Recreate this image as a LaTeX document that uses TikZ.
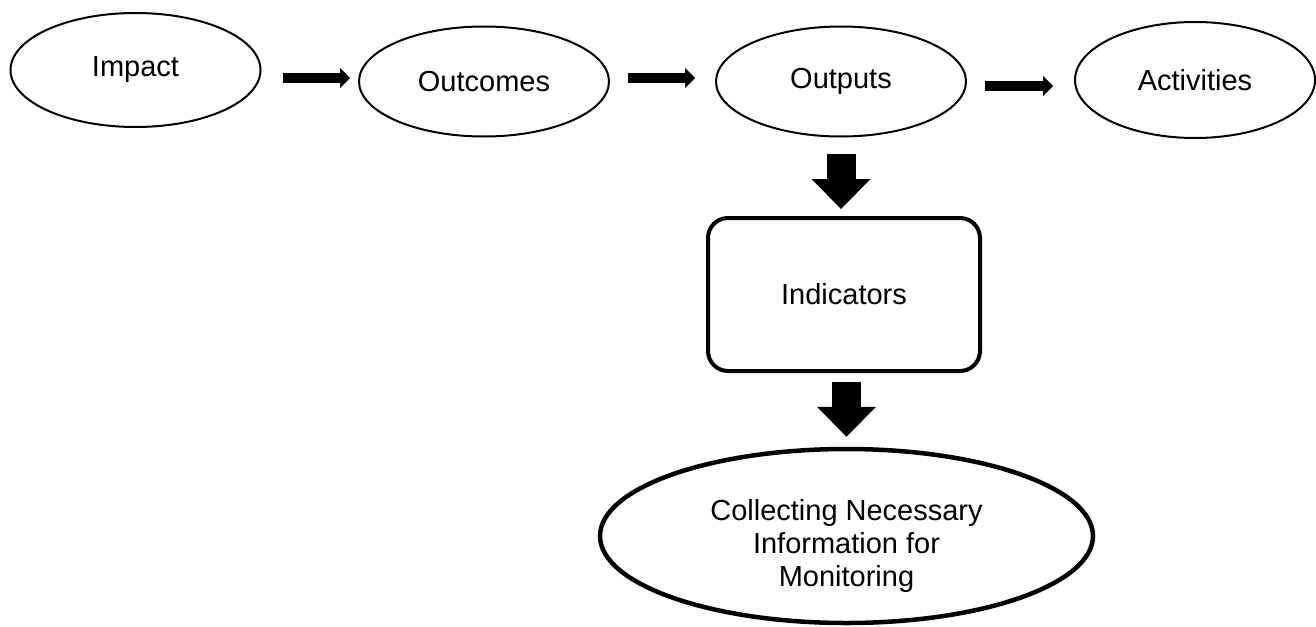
\documentclass[tikz,border=0pt]{standalone}
\usepackage{fontspec}
\setmainfont{Liberation Sans}
\usetikzlibrary{shapes.geometric,arrows.meta}
\tikzset{
  oval/.style={draw=black, ellipse, line width=2pt, inner sep=0pt,
    minimum width=250pt, minimum height=110pt, font=\fontsize{29}{33}\selectfont},
  bigoval/.style={oval, line width=4.5pt, minimum width=493pt, minimum height=174pt, align=center},
  rbox/.style={draw=black, rectangle, rounded corners=20pt, line width=4pt, inner sep=0pt,
    minimum width=272pt, minimum height=153pt, font=\fontsize{29}{33}\selectfont},
  harrow/.style={line width=10pt, -{Triangle[length=10pt, width=20pt, line width=0pt]}},
  varrow/.style={line width=29pt, -{Triangle[length=30pt, width=59pt, line width=0pt]}}
}

\begin{document}
\begin{tikzpicture}[x=1pt, y=-1pt]
  \useasboundingbox (0,0) rectangle (1316,626);

  % top row
  \node[oval, minimum height=114pt] (impact) at (135.5,70) {Impact};
  \node[oval] (outcomes) at (484,81.5) {Outcomes};
  \node[oval] (outputs) at (841,81.5) {Outputs};
  \node[oval, minimum width=240pt, minimum height=116pt] (activities) at (1195,80) {Activities};

  % lower part
  \node[rbox] (indicators) at (844,294.5) {Indicators};
  \node[bigoval] (collect) at (846.5,536) {\rule{0pt}{41pt}Collecting Necessary\\ Information for\\ Monitoring};

  % arrows
  \draw[harrow, shorten <=21pt, shorten >=8pt] ([yshift=-8pt]impact.east) -- ([yshift=3.5pt]outcomes.west);
  \draw[harrow, shorten <=18pt, shorten >=20pt] ([yshift=3.5pt]outcomes.east) -- ([yshift=3.5pt]outputs.west);
  \draw[harrow, shorten <=18pt, shorten >=21pt] ([yshift=-4.5pt]outputs.east) -- ([yshift=-6pt]activities.west);
  \draw[varrow, shorten <=16pt, shorten >=7pt] (outputs.south) -- (outputs.south |- indicators.north);
  \draw[varrow, shorten <=9pt, shorten >=10pt] (collect.north |- indicators.south) -- (collect.north);
\end{tikzpicture}
\end{document}
